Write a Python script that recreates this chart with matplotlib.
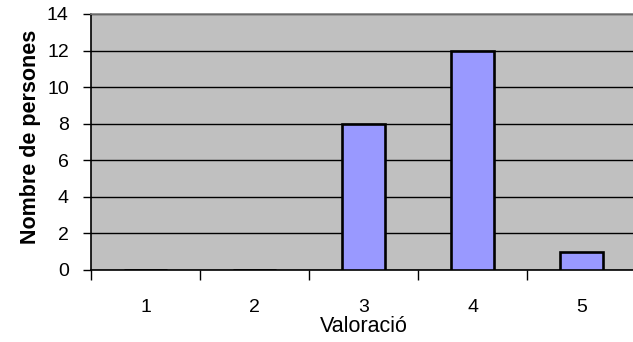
import matplotlib.pyplot as plt
import numpy as np

# rating categories and number of people per rating
valoracions = ['1', '2', '3', '4', '5']
persones = [0, 0, 8, 12, 1]
yticks = [0, 2, 4, 6, 8, 10, 12, 14]

plt.rcParams['font.family'] = ['Liberation Sans', 'DejaVu Sans']

W, H = 633, 342
fig = plt.figure(figsize=(W / 100, H / 100), dpi=100)
ax = fig.add_axes([91 / W, 72 / H, 545 / W, 256 / H])
ax.set_facecolor('#C0C0C0')

x = np.arange(len(valoracions))
ax.bar(x, persones, width=0.4, color='#9999FF', edgecolor='black',
       linewidth=1.9, zorder=3)

ax.set_xlim(-0.5, len(valoracions) - 0.5)
ax.set_ylim(0, 14)
ax.set_yticks(yticks)
ax.yaxis.grid(True, color='black', linewidth=1.0, zorder=1)
ax.set_axisbelow(True)

# category labels centred, tick marks on the boundaries
ax.set_xticks(x)
ax.set_xticklabels(valoracions)
ax.set_xticks(np.arange(-0.5, len(valoracions)), minor=True)
ax.tick_params(axis='x', which='major', length=0, pad=21, labelsize=14)
ax.tick_params(axis='x', which='minor', length=7, width=1, direction='out')
ax.tick_params(axis='y', length=6, width=1, direction='out', pad=10,
               labelsize=14)

for side in ['left', 'bottom']:
    ax.spines[side].set_color('black')
    ax.spines[side].set_linewidth(1.2)
ax.spines['top'].set_color('#808080')
ax.spines['top'].set_linewidth(1.2)
ax.spines['right'].set_visible(False)

ax.set_xlabel('Valoració', fontsize=15.5, labelpad=0)
ax.set_ylabel('Nombre de persones', fontsize=15.5, fontweight='bold')
ax.yaxis.set_label_coords(-0.092, 0.52)

fig.savefig('out.png', dpi=100)
